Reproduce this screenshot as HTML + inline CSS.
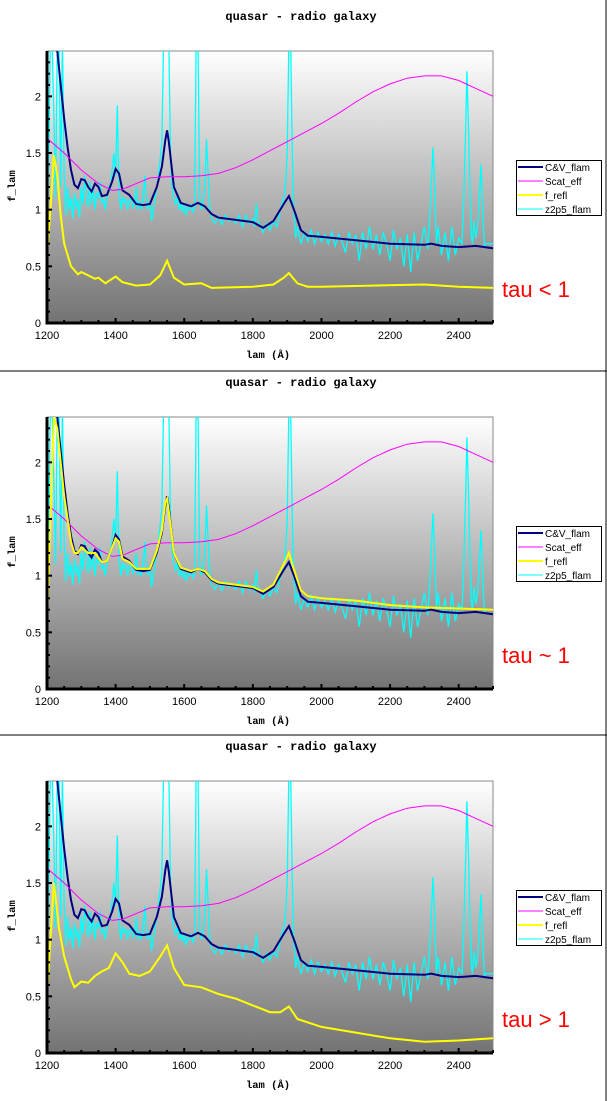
<!DOCTYPE html>
<html><head><meta charset="utf-8"><style>
body{margin:0;background:#fff;width:607px;height:1101px;overflow:hidden}
svg{display:block}
text{font-family:"Liberation Sans",sans-serif}
</style></head><body>
<svg id="s" width="607" height="1101" xmlns="http://www.w3.org/2000/svg">
<defs><linearGradient id="g" x1="0" y1="0" x2="0" y2="1"><stop offset="0" stop-color="#ffffff"/><stop offset="1" stop-color="#737373"/></linearGradient></defs>
<line x1="606" y1="0" x2="606" y2="1101" stroke="#000" stroke-width="1"/>
<line x1="0" y1="371" x2="607" y2="371" stroke="#000"/>
<line x1="0" y1="735" x2="607" y2="735" stroke="#000"/>
</svg>
<script>
const xTicks=[1200,1400,1600,1800,2000,2200,2400];
const yTicks=[0,0.5,1,1.5,2];
const yTickLabels=["0","0.5","1","1.5","2"];
const cvLam=[1200,1203,1215,1230,1240,1250,1260,1270,1280,1290,1300,1310,1320,1330,1340,1350,1360,1375,1390,1400,1410,1420,1440,1460,1480,1500,1520,1535,1545,1550,1555,1570,1590,1620,1640,1660,1680,1700,1750,1800,1830,1860,1890,1905,1920,1940,1960,2000,2100,2200,2300,2320,2350,2400,2450,2500];
const cvVal=[2.5,2.4,2.5,2.4,2.1,1.8,1.55,1.35,1.22,1.19,1.27,1.26,1.2,1.16,1.23,1.2,1.12,1.13,1.25,1.36,1.32,1.17,1.13,1.05,1.04,1.05,1.2,1.38,1.62,1.7,1.6,1.2,1.06,1.03,1.06,1.03,0.96,0.93,0.91,0.89,0.84,0.9,1.05,1.12,1.0,0.82,0.77,0.76,0.73,0.7,0.69,0.7,0.68,0.67,0.68,0.66];
const scLam=[1200,1250,1300,1350,1390,1420,1460,1500,1550,1600,1650,1700,1750,1800,1850,1900,1950,2000,2050,2100,2150,2200,2250,2300,2350,2400,2450,2500];
const scVal=[1.63,1.5,1.35,1.23,1.17,1.18,1.23,1.28,1.29,1.29,1.3,1.32,1.37,1.44,1.52,1.6,1.68,1.76,1.85,1.95,2.04,2.11,2.16,2.18,2.18,2.14,2.07,2.0];
const r1Lam=[1200,1210,1220,1230,1240,1250,1270,1290,1300,1320,1340,1350,1370,1400,1420,1460,1500,1530,1550,1570,1600,1650,1680,1800,1860,1890,1905,1930,1960,2000,2300,2400,2500];
const r1Val=[0.6,1.0,1.48,1.3,0.95,0.7,0.5,0.43,0.45,0.42,0.39,0.4,0.35,0.41,0.36,0.33,0.34,0.42,0.55,0.4,0.34,0.35,0.31,0.32,0.34,0.4,0.44,0.35,0.32,0.32,0.34,0.32,0.31];
const r2Lam=[1200,1210,1220,1230,1240,1250,1260,1270,1280,1290,1300,1320,1340,1360,1375,1390,1400,1410,1420,1440,1460,1500,1520,1535,1545,1550,1560,1570,1590,1620,1640,1660,1680,1700,1750,1800,1830,1860,1890,1905,1920,1940,1960,2000,2100,2200,2300,2400,2500];
const r2Val=[0.6,1.5,2.4,2.3,2.0,1.7,1.5,1.3,1.2,1.2,1.25,1.2,1.2,1.12,1.13,1.25,1.33,1.3,1.15,1.12,1.06,1.06,1.22,1.4,1.65,1.68,1.45,1.2,1.07,1.04,1.06,1.04,0.97,0.94,0.92,0.9,0.86,0.92,1.1,1.2,1.05,0.87,0.82,0.8,0.78,0.74,0.72,0.71,0.7];
const r3Lam=[1200,1210,1220,1235,1250,1270,1280,1300,1320,1340,1360,1380,1400,1420,1440,1470,1500,1530,1550,1570,1600,1650,1700,1750,1800,1850,1880,1905,1930,2000,2100,2200,2300,2400,2500];
const r3Val=[0.5,1.0,1.5,1.1,0.85,0.65,0.58,0.63,0.62,0.68,0.72,0.75,0.88,0.8,0.7,0.68,0.72,0.85,0.95,0.75,0.6,0.58,0.52,0.48,0.42,0.36,0.36,0.41,0.3,0.23,0.18,0.13,0.1,0.11,0.13];
const zLam=[1200,1205,1210,1215,1220,1225,1230,1235,1240,1245,1250,1255,1260,1265,1270,1275,1280,1285,1290,1295,1300,1305,1310,1315,1320,1325,1330,1335,1340,1345,1350,1355,1360,1365,1370,1375,1380,1385,1390,1395,1400,1405,1408,1412,1415,1420,1425,1430,1435,1440,1445,1450,1455,1460,1465,1470,1475,1480,1485,1490,1495,1500,1505,1510,1515,1520,1525,1530,1535,1540,1545,1550,1555,1560,1565,1570,1575,1580,1585,1590,1595,1600,1605,1610,1615,1620,1625,1630,1635,1640,1645,1650,1655,1660,1665,1670,1675,1680,1690,1700,1710,1720,1730,1740,1750,1760,1770,1780,1790,1800,1805,1810,1815,1820,1830,1840,1850,1860,1870,1880,1890,1895,1900,1905,1910,1915,1920,1925,1930,1940,1950,1960,1970,1980,1990,2000,2010,2020,2030,2040,2050,2060,2070,2080,2090,2100,2110,2120,2130,2140,2150,2160,2170,2180,2190,2200,2210,2220,2230,2240,2250,2260,2270,2280,2290,2300,2310,2315,2320,2325,2330,2335,2340,2350,2360,2370,2380,2390,2400,2410,2415,2420,2424,2428,2432,2436,2440,2445,2450,2455,2460,2465,2470,2475,2480,2490,2500];
const zVal=[0.6,1.5,2.5,2.5,1.8,1.1,2.5,2.5,1.2,2.5,1.3,0.95,1.2,1.0,1.1,0.92,1.15,1.0,1.1,0.93,1.2,1.05,1.3,1.1,1.02,1.25,1.05,1.2,1.0,1.15,1.1,1.25,1.05,1.1,1.0,1.12,1.2,1.18,1.35,1.5,1.3,1.92,1.4,1.1,1.0,1.12,1.05,1.1,1.0,1.08,1.1,1.02,1.05,1.2,1.0,1.08,1.0,1.1,1.3,1.05,1.0,1.08,0.9,1.0,1.1,1.2,1.3,1.45,1.6,2.5,2.5,2.5,2.5,1.5,1.2,1.1,1.05,1.12,1.0,1.05,0.98,1.05,0.95,1.02,1.0,1.05,0.98,1.02,2.5,2.5,1.1,1.0,1.05,1.2,1.62,1.3,1.0,0.92,0.88,0.94,0.87,0.95,0.9,0.92,0.88,0.95,0.85,0.95,0.88,0.92,0.85,1.05,0.9,0.87,0.8,0.88,0.82,0.9,0.85,1.0,1.1,1.2,1.5,2.5,2.5,1.5,0.95,0.75,0.85,0.7,0.8,0.72,0.82,0.7,0.8,0.72,0.78,0.7,0.8,0.68,0.78,0.72,0.62,0.8,0.7,0.78,0.55,0.8,0.65,0.85,0.65,0.78,0.6,0.8,0.7,0.55,0.82,0.65,0.75,0.5,0.78,0.45,0.8,0.55,0.7,0.85,0.65,0.9,1.2,1.55,1.2,0.7,0.85,0.6,0.8,0.55,0.85,0.6,0.75,0.7,1.1,1.7,2.22,1.8,1.3,0.8,0.7,0.9,0.75,0.85,1.1,1.4,1.0,0.68,0.7,0.7,0.7];
const panelTaus=["tau < 1","tau ~ 1","tau > 1"];
const reflSets=[[r1Lam,r1Val],[r2Lam,r2Val],[r3Lam,r3Val]];

const NS="http://www.w3.org/2000/svg",svg=document.getElementById('s');
const X0=47,X1=493,XMIN=1200,XMAX=2500,YMAX=2.4;
const MONO='font-family:"Liberation Mono",monospace;font-weight:bold';
function mk(t,a,p){const e=document.createElementNS(NS,t);for(const k in a)e.setAttribute(k,a[k]);(p||svg).appendChild(e);return e;}
[0,366,730].forEach((off,pi)=>{
  const YB=323+off,YT=51+off;
  const sx=v=>X0+(v-XMIN)/(XMAX-XMIN)*(X1-X0);
  const sy=v=>YB-v/YMAX*(YB-YT);
  const g=mk('g',{});
  
  
  const t=mk('text',{x:301,y:20+off,'text-anchor':'middle',style:MONO+';font-size:12px'},g);
  t.textContent='quasar - radio galaxy';
  
  
  const bg=mk('rect',{x:X0,y:YT,width:X1-X0,height:YB-YT,fill:'url(#g)',stroke:'#888','stroke-width':1},g);
  
  
  const cp='c'+pi;
  const cl=mk('clipPath',{id:cp},g);mk('rect',{x:X0,y:YT,width:X1-X0,height:YB-YT},cl);
  function line(lams,vals,col,w,name){
    const d=lams.map((l,i)=>(i?'L':'M')+sx(l).toFixed(1)+','+sy(vals[i]).toFixed(1)).join('');
    const p=mk('path',{d:d,fill:'none',stroke:col,'stroke-width':w,'clip-path':'url(#'+cp+')','stroke-linejoin':'miter'},g);
    
    
  }
  line(zLam,zVal,'#00ffff',1.3,'series-z2p5-flam');
  line(cvLam,cvVal,'#000080',2,'series-cv-flam');
  line(scLam,scVal,'#ff00ff',1,'series-scat-eff');
  line(reflSets[pi][0],reflSets[pi][1],'#ffff00',2,'series-f-refl');
  const ax=mk('path',{d:`M${X0},${YT}L${X0},${YB}L${X1},${YB}`,fill:'none',stroke:'#000','stroke-width':3},g);
  
  
  for(let v=0;v<=YMAX;v+=0.1){mk('line',{x1:X0,x2:X0+3+(Math.abs(v*2-Math.round(v*2))<1e-6?2:0),y1:sy(v),y2:sy(v),stroke:'#000','stroke-width':2},g);}
  for(let v=XMIN;v<=XMAX;v+=50){mk('line',{x1:sx(v),x2:sx(v),y1:YB,y2:YB-(v%200===0?5:3),stroke:'#000','stroke-width':2},g);}
  yTicks.forEach((v,i)=>{const e=mk('text',{x:X0-6,y:sy(v)+4,'text-anchor':'end','font-size':'11'},g);e.textContent=yTickLabels[i];
    
    });
  xTicks.forEach(v=>{const e=mk('text',{x:sx(v),y:YB+16,'text-anchor':'middle','font-size':'11'},g);e.textContent=v;
    
    });
  const xt=mk('text',{x:268,y:YB+35,'text-anchor':'middle',style:MONO+';font-size:10.5px'},g);xt.textContent='lam (Å)';
  
  
  const yt=mk('text',{x:0,y:0,transform:`translate(15,${186+off}) rotate(-90)`,'text-anchor':'middle',style:MONO+';font-size:10.5px'},g);yt.textContent='f_lam';
  
  
  const lg=mk('g',{},g);
  
  
  mk('rect',{x:516.5,y:160.5+off,width:85,height:55,fill:'#fff',stroke:'#000'},lg);
  [['C&V_flam','#000080',2],['Scat_eff','#ff00ff',1],['f_refl','#ffff00',2],['z2p5_flam','#00ffff',1]].forEach((it,i)=>{
    const y=167+i*14+off;
    mk('line',{x1:518,x2:543,y1:y,y2:y,stroke:it[1],'stroke-width':it[2]},lg);
    const e=mk('text',{x:545,y:y+4,'font-size':'10'},lg);e.textContent=it[0];
    
    
  });
  const tau=mk('text',{x:502,y:297+off,'font-size':'22',fill:'#ff0000'},g);tau.textContent=panelTaus[pi];
  
  
});
</script>
</body></html>
